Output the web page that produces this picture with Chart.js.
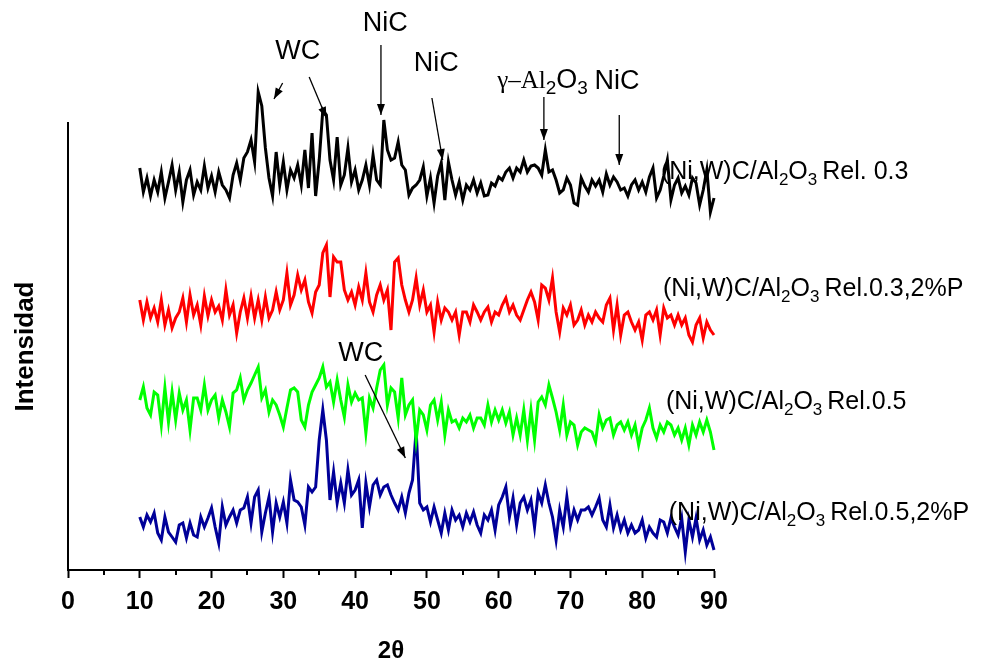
<!DOCTYPE html>
<html><head><meta charset="utf-8">
<script src="https://cdn.jsdelivr.net/npm/chart.js@4"></script>
<style>html,body{margin:0;padding:0;background:#fff;}#wrap{width:984px;height:663px;}</style>
</head><body><div id="wrap"><canvas id="c" width="984" height="663"></canvas></div>
<script>
// 2-theta angles (degrees)
const angles = [10,10.5,11,11.5,12,12.5,13,13.5,14,14.5,15,15.5,16,16.5,17,17.5,18,18.5,19,19.5,20,20.5,21,21.5,22,22.5,23,23.5,24,24.5,25,25.5,26,26.5,27,27.5,28,28.5,29,29.5,30,30.5,31,31.5,32,32.5,33,33.5,34,34.5,35,35.5,36,36.5,37,37.5,38,38.5,39,39.5,40,40.5,41,41.5,42,42.5,43,43.5,44,44.5,45,45.5,46,46.5,47,47.5,48,48.5,49,49.5,50,50.5,51,51.5,52,52.5,53,53.5,54,54.5,55,55.5,56,56.5,57,57.5,58,58.5,59,59.5,60,60.5,61,61.5,62,62.5,63,63.5,64,64.5,65,65.5,66,66.5,67,67.5,68,68.5,69,69.5,70,70.5,71,71.5,72,72.5,73,73.5,74,74.5,75,75.5,76,76.5,77,77.5,78,78.5,79,79.5,80,80.5,81,81.5,82,82.5,83,83.5,84,84.5,85,85.5,86,86.5,87,87.5,88,88.5,89,89.5,90];

// Intensities (arbitrary units, stacked)
const rel03 = [402,378,392,374,390,378,398,372,388,405,380,398,368,390,400,375,388,380,404,382,394,378,398,385,380,372,395,407,390,412,418,430,408,478,464,422,392,374,418,385,408,380,400,392,405,385,420,382,437,374,410,460,455,410,390,433,385,395,422,388,400,380,390,405,385,415,390,385,450,420,410,412,428,405,400,375,382,385,390,403,374,392,367,394,407,370,408,390,375,388,370,385,380,390,377,387,374,375,387,384,393,390,398,402,392,402,398,410,398,404,405,402,395,420,398,400,390,377,380,392,385,367,365,392,384,378,390,384,390,378,396,385,393,388,380,382,374,385,390,380,388,378,393,402,372,380,394,410,370,385,392,377,384,375,392,387,365,380,400,358,372];
const rel03P = [270,250,268,252,262,248,270,245,260,242,252,258,272,248,275,255,265,245,274,254,270,258,264,250,280,255,265,237,258,272,252,274,252,270,250,273,252,260,278,260,270,297,265,275,295,280,290,268,257,278,285,317,325,273,313,308,308,280,270,278,265,283,270,297,268,258,275,285,270,280,240,308,312,285,270,258,270,292,265,280,258,265,238,268,250,262,258,250,258,235,258,258,248,265,258,250,258,263,248,258,255,265,272,258,265,255,250,260,270,278,268,250,285,282,270,292,258,238,262,255,265,245,250,260,245,255,248,258,252,248,265,272,240,265,235,255,258,248,240,248,230,255,258,250,260,235,262,252,255,245,255,245,252,235,228,245,252,232,248,240,235];
const rel05 = [170,183,162,155,178,175,145,182,148,178,150,177,160,170,140,172,172,160,185,160,170,175,152,170,158,143,177,180,192,170,180,187,195,203,172,180,158,170,165,155,143,162,180,182,178,150,143,165,178,185,192,203,183,188,168,190,170,153,185,168,177,170,172,137,172,162,182,200,205,165,182,178,152,192,155,165,170,130,160,155,140,165,170,150,168,135,160,148,150,142,152,148,155,142,152,152,145,165,148,160,150,160,147,158,135,152,135,160,130,160,130,168,173,165,185,172,158,140,165,135,148,145,125,138,142,140,138,128,155,142,150,152,135,145,148,140,148,135,145,125,142,150,162,142,132,145,138,148,145,135,142,130,142,125,145,135,148,138,150,138,120];
const rel05P = [53,43,55,48,57,37,30,53,38,33,28,45,47,32,47,35,33,53,43,52,62,43,27,63,45,53,60,47,60,62,73,47,73,80,38,57,73,38,67,53,68,47,90,70,68,63,45,83,78,83,130,160,130,70,98,67,87,67,100,75,80,90,42,87,63,85,90,75,83,85,75,67,60,73,57,77,90,140,67,60,63,48,63,50,37,57,40,60,50,55,43,57,48,58,45,37,55,50,60,40,65,73,83,53,72,45,67,73,60,70,43,77,67,85,67,53,30,60,43,73,45,60,50,60,60,63,55,63,72,50,43,65,42,55,40,50,37,45,37,40,50,32,43,37,33,50,48,37,52,43,35,52,18,50,33,52,30,40,25,33,20];

const seriesNames = ['Rel. 0.3','Rel.0.3,2%P','Rel.0.5','Rel.0.5,2%P'];
const seriesColors = ['#000000','#ff0000','#00ff00','#000099'];
const seriesData = [rel03, rel03P, rel05, rel05P];
// label anchor positions in data units [2theta, intensity]
const labelAt = [[82.6,391],[82.9,274],[83.3,161],[83.7,50]];

const xTicks = [0,10,20,30,40,50,60,70,80,90];
const minorTicks = [5,15,25,35,45,55,65,75,85];

// Peak annotations: text, [2theta, intensity] centre
const annoText = ['WC','NiC','NiC','NiC','WC'];
const annoPos = [[32.0,518],[44.2,546],[51.3,506],[76.5,488],[40.8,216]];
// Arrows: [x0,y0,x1,y1] in data units
const arrows = [[29.9,487,28.7,471],[33.6,493,36.0,452],[43.6,525,43.6,455],[50.7,472,52.2,410],[66.3,473,66.3,430],[76.8,455,76.8,405],[41.4,195,47.0,112]];
const gammaPos = [59.8,482];

const SANS = "'Liberation Sans', Arial, Helvetica, sans-serif";
const SERIF = "'Liberation Serif', 'Times New Roman', serif";

function drawRich(ctx, x, y, parts) {
  let cx = x;
  for (const p of parts) {
    ctx.font = p.font;
    ctx.fillText(p.t, cx, y + (p.dy || 0));
    cx += ctx.measureText(p.t).width + (p.gap || 0);
  }
}
function arrow(ctx, x0, y0, x1, y1) {
  ctx.beginPath(); ctx.moveTo(x0, y0); ctx.lineTo(x1, y1); ctx.stroke();
  const a = Math.atan2(y1 - y0, x1 - x0), L = 11, W = 4;
  ctx.beginPath();
  ctx.moveTo(x1, y1);
  ctx.lineTo(x1 - L*Math.cos(a) + W*Math.sin(a), y1 - L*Math.sin(a) - W*Math.cos(a));
  ctx.lineTo(x1 - L*Math.cos(a) - W*Math.sin(a), y1 - L*Math.sin(a) + W*Math.cos(a));
  ctx.closePath(); ctx.fill();
}

const overlay = {
  id: 'overlay',
  afterDraw(chart) {
    const ctx = chart.ctx, xs = chart.scales.x, ys = chart.scales.y;
    ctx.save();
    ctx.fillStyle = '#000'; ctx.strokeStyle = '#000';
    // minor ticks
    ctx.lineWidth = 2;
    const b = chart.chartArea.bottom;
    for (const v of minorTicks) {
      const px = Math.round(xs.getPixelForValue(v));
      ctx.beginPath(); ctx.moveTo(px, b); ctx.lineTo(px, b + 5); ctx.stroke();
    }
    // annotations
    ctx.textAlign = 'center'; ctx.textBaseline = 'middle';
    ctx.font = '27px ' + SANS;
    annoText.forEach((t, i) => {
      ctx.fillText(t, xs.getPixelForValue(annoPos[i][0]), ys.getPixelForValue(annoPos[i][1]));
    });
    ctx.lineWidth = 1.3;
    arrows.forEach(a => arrow(ctx, xs.getPixelForValue(a[0]), ys.getPixelForValue(a[1]), xs.getPixelForValue(a[2]), ys.getPixelForValue(a[3])));
    // gamma-Al2O3
    ctx.textAlign = 'left'; ctx.textBaseline = 'alphabetic';
    drawRich(ctx, xs.getPixelForValue(gammaPos[0]), ys.getPixelForValue(gammaPos[1]), [
      {t: 'γ–Al', font: '25px ' + SERIF},
      {t: '2', font: '19px ' + SANS, dy: 6},
      {t: 'O', font: '27px ' + SANS},
      {t: '3', font: '19px ' + SANS, dy: 6}
    ]);
    // series labels
    seriesNames.forEach((n, i) => {
      drawRich(ctx, xs.getPixelForValue(labelAt[i][0]), ys.getPixelForValue(labelAt[i][1]), [
        {t: '(Ni,W)C/Al', font: '25px ' + SANS},
        {t: '2', font: '17px ' + SANS, dy: 6},
        {t: 'O', font: '25px ' + SANS},
        {t: '3', font: '17px ' + SANS, dy: 6, gap: 5},
        {t: n, font: '25px ' + SANS}
      ]);
    });
    ctx.restore();
  }
};

new Chart(document.getElementById('c'), {
  type: 'line',
  data: {
    datasets: seriesData.map((d, i) => ({
      label: seriesNames[i],
      data: angles.map((a, j) => ({x: a, y: d[j]})),
      borderColor: seriesColors[i],
      borderWidth: 3,
      pointRadius: 0,
      tension: 0,
      fill: false,
      clip: false
    }))
  },
  options: {
    responsive: false,
    animation: false,
    devicePixelRatio: 1,
    layout: {padding: {left: 0, right: 270, top: 123, bottom: 0}},
    plugins: {legend: {display: false}, tooltip: {enabled: false}},
    scales: {
      x: {
        type: 'linear', min: 0, max: 90,
        afterBuildTicks: s => { s.ticks = xTicks.map(v => ({value: v})); },
        afterFit: s => { s.height = 93; },
        ticks: {color: '#000', font: {family: SANS, size: 25, weight: 'bold'}, padding: 9, maxRotation: 0},
        grid: {drawOnChartArea: false, drawTicks: true, tickLength: 8, tickColor: '#000', tickWidth: 2},
        border: {display: true, color: '#000', width: 2},
        title: {display: true, text: '2θ', color: '#000', font: {family: SANS, size: 24, weight: 'bold', lineHeight: 1.0}, padding: {top: 0, bottom: 0}}
      },
      y: {
        min: 0, max: 447,
        afterFit: s => { s.width = 68; },
        ticks: {display: false},
        grid: {display: false, drawTicks: false},
        border: {display: true, color: '#000', width: 2},
        title: {display: true, text: 'Intensidad', color: '#000', font: {family: SANS, size: 26, weight: 'bold'}, padding: {top: 10, bottom: 0}}
      }
    }
  },
  plugins: [overlay]
});
</script>
</body></html>
